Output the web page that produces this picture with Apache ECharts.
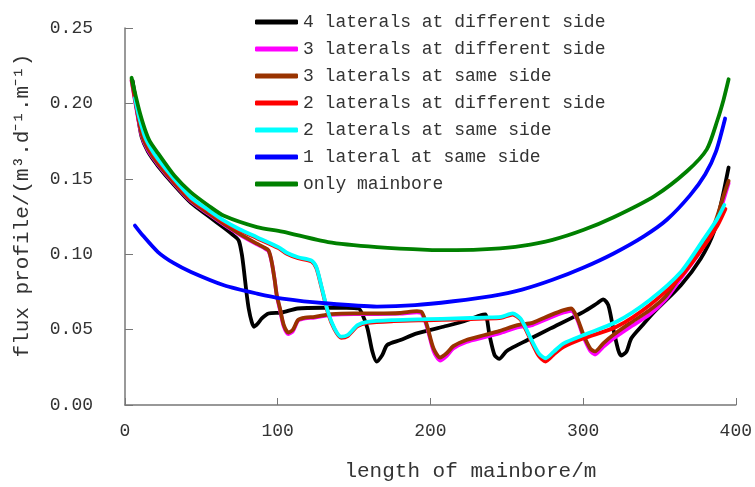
<!DOCTYPE html>
<html><head><meta charset="utf-8">
<script src="https://cdn.jsdelivr.net/npm/echarts@6/dist/echarts.min.js"></script>
<style>html,body{margin:0;padding:0;background:#fff}#c{width:755px;height:487px}</style>
</head><body><div id="c"></div>
<script>
const seriesNames = ['4 laterals at different side','3 laterals at different side','3 laterals at same side','2 laterals at different side','2 laterals at same side','1 lateral at same side','only mainbore'];
const xTicks = [0,100,200,300,400];
const yTicks = [0,0.05,0.10,0.15,0.20,0.25];

const black = [[5,0.215],[8,0.195],[10.8,0.178],[15,0.168],[21.6,0.1585],[32,0.146],[43.2,0.134],[55,0.125],[64.8,0.1175],[71,0.1125],[74.5,0.109],[76.5,0.100],[77.8,0.090],[79.5,0.075],[81,0.064],[83,0.055],[84.5,0.0519],[87,0.054],[89.6,0.0574],[94,0.0607],[102.6,0.0613],[113,0.064],[130,0.0645],[145,0.0645],[153,0.064],[155.5,0.060],[158.8,0.0508],[162,0.0354],[164.8,0.0288],[168.5,0.0332],[171.7,0.0398],[180.4,0.0431],[191.2,0.0475],[208.5,0.0519],[222,0.0555],[233.3,0.0596],[236,0.060],[238.7,0.0464],[242,0.0332],[245,0.0306],[249.5,0.0354],[252.8,0.0376],[263.6,0.0431],[278.7,0.0508],[300.3,0.0618],[309,0.0673],[313.2,0.0701],[316.5,0.0662],[319.7,0.0508],[323,0.0365],[325,0.0328],[328.4,0.0354],[331.6,0.0442],[339,0.053],[346.7,0.0618],[364,0.0794],[377,0.097],[385.6,0.1146],[391,0.1365],[395.3,0.1575]];
const magenta = [[4.3,0.2150],[7,0.199],[10.8,0.179],[15,0.169],[21.6,0.1595],[32,0.147],[43.2,0.135],[55,0.1265],[64.8,0.1195],[75,0.113],[86.4,0.1065],[90.7,0.1043],[94,0.102],[96.1,0.0945],[98,0.083],[99.4,0.0725],[101.5,0.063],[104,0.052],[107,0.047],[110,0.049],[113.4,0.056],[118,0.0575],[124.2,0.058],[135,0.0598],[150,0.0603],[165,0.0603],[180,0.0606],[191.2,0.0615],[194.4,0.0605],[197.7,0.052],[202,0.036],[206.3,0.0295],[210.6,0.0325],[215,0.0375],[223.6,0.0418],[235.5,0.045],[245,0.0475],[257,0.0515],[266.8,0.053],[278.7,0.058],[287.3,0.0613],[292.2,0.0625],[296,0.057],[300.3,0.045],[304.6,0.036],[307.8,0.0335],[313.2,0.0385],[319.7,0.044],[330.5,0.0515],[343.5,0.060],[354,0.070],[364,0.084],[374.8,0.099],[385.6,0.117],[392,0.136],[395.3,0.147]];
const brown = [[4.3,0.2157],[7,0.200],[10.8,0.180],[15,0.170],[21.6,0.160],[32,0.1475],[43.2,0.1355],[55,0.127],[64.8,0.120],[75,0.1135],[86.4,0.107],[90.7,0.1047],[94,0.1025],[96.1,0.0948],[98,0.083],[99.4,0.0728],[101.5,0.064],[104,0.053],[107,0.048],[110,0.050],[113.4,0.0565],[118,0.058],[124.2,0.0585],[135,0.0602],[150,0.0607],[165,0.0607],[180,0.061],[191.2,0.0622],[194.4,0.0615],[197.7,0.053],[202,0.0376],[206.3,0.0315],[210.6,0.0343],[215,0.039],[223.6,0.0431],[235.5,0.0464],[245,0.049],[257,0.053],[266.8,0.0545],[278.7,0.0596],[287.3,0.0629],[292.2,0.064],[296,0.058],[300.3,0.0464],[304.6,0.0376],[307.8,0.0355],[313.2,0.0409],[319.7,0.0464],[330.5,0.0541],[343.5,0.0629],[354,0.072],[364,0.0862],[374.8,0.1014],[385.6,0.119],[392,0.1387],[395.3,0.1486]];
const red = [[6,0.208],[9,0.191],[13,0.177],[17,0.169],[21.6,0.162],[32,0.149],[43.2,0.1368],[55,0.1283],[64.8,0.1215],[75,0.1158],[86.4,0.1106],[100.5,0.104],[106,0.1003],[113.4,0.0973],[122,0.0952],[125.3,0.0908],[128.5,0.0787],[132.9,0.0611],[137.2,0.0501],[141.5,0.0446],[145.8,0.0457],[152.3,0.0523],[158.8,0.0545],[176,0.0556],[197.7,0.0562],[217,0.0567],[235,0.0573],[246.3,0.0578],[253.9,0.0600],[259,0.0567],[262.5,0.050],[265.7,0.0430],[271,0.0325],[275.4,0.0288],[280.8,0.0335],[287.3,0.0385],[300.3,0.0442],[321.9,0.0519],[343.5,0.0662],[364,0.085],[379,0.105],[388,0.119],[393.2,0.130]];
const cyan = [[6.5,0.2036],[9,0.192],[13,0.178],[17,0.170],[21.6,0.163],[32,0.150],[43.2,0.1376],[55,0.129],[64.8,0.1222],[75,0.1165],[86.4,0.1113],[100.5,0.1047],[106,0.101],[113.4,0.098],[122,0.0959],[125.3,0.0915],[128.5,0.0794],[132.9,0.0618],[137.2,0.0508],[141.5,0.0453],[145.8,0.0464],[152.3,0.053],[158.8,0.0552],[176,0.0563],[197.7,0.0569],[217,0.0574],[235,0.058],[246.3,0.0585],[253.9,0.0607],[259,0.0574],[262.5,0.051],[265.7,0.0442],[271,0.0343],[275.4,0.031],[280.8,0.0354],[287.3,0.0409],[300.3,0.0464],[321.9,0.0552],[343.5,0.0695],[364,0.0882],[379,0.110],[387.8,0.1234],[392.5,0.1326]];
const blue = [[6.5,0.119],[12,0.112],[21.6,0.1014],[32,0.094],[43.2,0.0882],[64.8,0.0794],[86.4,0.0739],[103,0.0706],[133,0.0673],[165,0.0653],[190,0.0662],[215,0.0688],[240,0.0722],[260,0.0765],[280,0.083],[300,0.091],[320,0.1005],[340,0.112],[355,0.123],[370,0.139],[380,0.153],[387,0.168],[393,0.190]];
const green = [[4.3,0.217],[7,0.205],[9.7,0.194],[13,0.183],[16.2,0.175],[21.6,0.167],[32.4,0.152],[43.2,0.141],[55,0.132],[64.8,0.1255],[86.4,0.118],[103,0.115],[133,0.108],[165,0.1047],[198,0.1029],[217,0.1027],[240,0.1035],[260,0.1055],[280,0.1095],[300,0.1160],[320,0.1245],[347,0.1387],[368,0.155],[381,0.1695],[388,0.189],[392,0.2025],[395.3,0.216]];

const colors = ['#000000','#ff00ff','#993300','#ff0000','#00ffff','#0000ff','#008000'];
const datasets = [black, magenta, brown, red, cyan, blue, green];
const FONT = 'Liberation Mono';

const chart = echarts.init(document.getElementById('c'));
chart.setOption({
  animation: false,
  backgroundColor: '#fff',
  grid: {left: 125, right: 13, top: 28, bottom: 80},
  legend: {
    orient: 'vertical', left: 250, top: 7, itemWidth: 43, itemHeight: 5, itemGap: 7,
    icon: 'roundRect',
    textStyle: {fontFamily: FONT, fontSize: 18, color: '#333', lineHeight: 20},
    data: seriesNames
  },
  xAxis: {
    type: 'value', min: xTicks[0], max: xTicks[xTicks.length-1], interval: 100,
    name: 'length of mainbore/m', nameLocation: 'middle', nameGap: 56,
    nameTextStyle: {fontFamily: FONT, fontSize: 21, color: '#333', padding: [0,0,0,80]},
    axisLine: {lineStyle: {color: '#777', width: 1.5}},
    axisTick: {inside: true, length: 7, lineStyle: {color: '#777'}},
    axisLabel: {fontFamily: FONT, fontSize: 18, color: '#333', margin: 17},
    splitLine: {show: false}
  },
  yAxis: {
    type: 'value', min: yTicks[0], max: yTicks[yTicks.length-1], interval: 0.05,
    name: 'flux profile/(m³.d⁻¹.m⁻¹)', nameLocation: 'middle', nameRotate: 90, nameGap: 92,
    nameTextStyle: {fontFamily: FONT, fontSize: 21, color: '#333', padding: [0,0,0,22]},
    axisLine: {show: true, lineStyle: {color: '#777', width: 1.5}},
    axisTick: {show: true, inside: true, length: 8, lineStyle: {color: '#777'}},
    axisLabel: {fontFamily: FONT, fontSize: 18, color: '#333', margin: 32, formatter: v => v.toFixed(2)},
    splitLine: {show: false}
  },
  series: seriesNames.map((n, i) => ({
    name: n, type: 'line', data: datasets[i], showSymbol: false, symbol: 'none',
    smooth: 0.25, color: colors[i],
    lineStyle: {width: 3.8, color: colors[i], cap: 'round', join: 'round'}
  }))
});
</script></body></html>
